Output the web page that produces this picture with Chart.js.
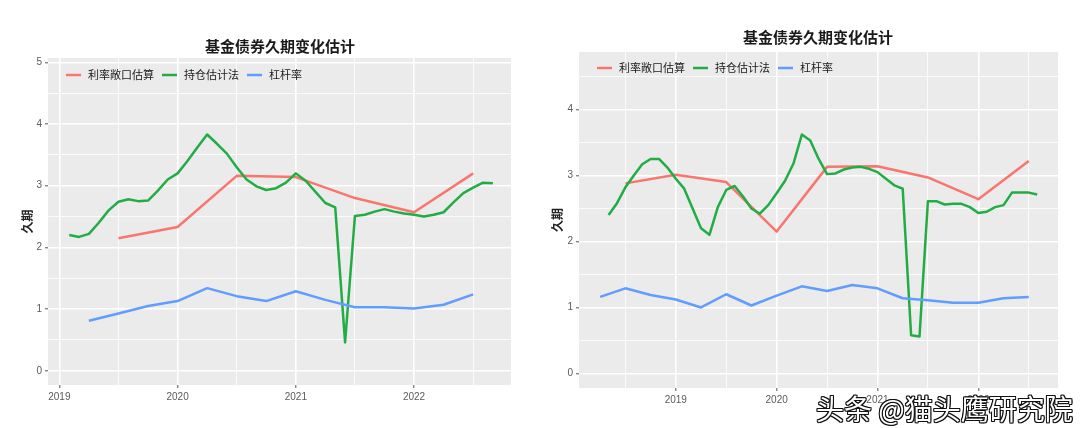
<!DOCTYPE html>
<html>
<head>
<meta charset="utf-8">
<script src="https://cdn.jsdelivr.net/npm/chart.js@4.4.0/dist/chart.umd.min.js"></script>
<style>
  body { margin: 0; background: #fff; width: 1080px; height: 428px; overflow: hidden; position: relative; }
  .box { position: absolute; top: 0; width: 540px; height: 428px; }
  #mark { position: absolute; left: 816px; top: 394px; font-size: 28px; line-height: 1; color: #fff;
          text-shadow: 1px 0 0 #111, -1px 0 0 #111, 0 1px 0 #111, 0 -1px 0 #111,
                       1px 1px 0 #111, -1px -1px 0 #111, 1px -1px 0 #111, -1px 1px 0 #111;
          white-space: nowrap; font-family: "Noto Sans CJK SC", sans-serif; }
</style>
</head>
<body>
<div class="box" style="left:0"><canvas id="left" width="540" height="428"></canvas></div>
<div class="box" style="left:540px"><canvas id="right" width="540" height="428"></canvas></div>
<div id="mark">头条 @猫头鹰研究院</div>
<script>
const seriesNames = ['利率敞口估算', '持仓估计法', '杠杆率'];
const seriesColors = ['#F8766D', '#22AD44', '#619CFF'];
const chartTitle = '基金债券久期变化估计';
const yTitle = '久期';

// ---- left chart data ----
const leftRateDates = ['2019-07', '2020-01', '2020-07', '2021-01', '2021-07', '2022-01', '2022-07'];
const leftRateVals = [2.15, 2.33, 3.16, 3.14, 2.80, 2.57, 3.20];

const leftHoldDates = [
  '2019-02', '2019-03', '2019-04', '2019-05', '2019-06', '2019-07', '2019-08', '2019-09', '2019-10', '2019-11', '2019-12',
  '2020-01', '2020-02', '2020-03', '2020-04', '2020-05', '2020-06', '2020-07', '2020-08', '2020-09', '2020-10', '2020-11', '2020-12',
  '2021-01', '2021-02', '2021-03', '2021-04', '2021-05', '2021-06', '2021-07', '2021-08', '2021-09', '2021-10', '2021-11', '2021-12',
  '2022-01', '2022-02', '2022-03', '2022-04', '2022-05', '2022-06', '2022-07', '2022-08', '2022-09'];
const leftHoldVals = [
  2.20, 2.17, 2.22, 2.40, 2.60, 2.74, 2.78, 2.75, 2.76, 2.92, 3.10,
  3.20, 3.40, 3.62, 3.83, 3.68, 3.52, 3.30, 3.10, 2.99, 2.93, 2.96, 3.05,
  3.20, 3.08, 2.90, 2.72, 2.65, 0.46, 2.51, 2.53, 2.58, 2.62, 2.58, 2.55,
  2.53, 2.50, 2.53, 2.57, 2.73, 2.88, 2.97, 3.05, 3.04];

const leftLevDates = ['2019-04', '2019-07', '2019-10', '2020-01', '2020-04', '2020-07', '2020-10',
  '2021-01', '2021-04', '2021-07', '2021-10', '2022-01', '2022-04', '2022-07'];
const leftLevVals = [0.81, 0.93, 1.05, 1.13, 1.34, 1.21, 1.13, 1.29, 1.15, 1.03, 1.03, 1.01, 1.07, 1.24];

const leftXMajor = [2019, 2020, 2021, 2022];
const leftXMinor = [2019.5, 2020.5, 2021.5, 2022.5];
const leftYMajor = [0, 1, 2, 3, 4, 5];
const leftYMinor = [0.5, 1.5, 2.5, 3.5, 4.5];

// ---- right chart data ----
const rightRateDates = ['2018-07', '2019-01', '2019-07', '2020-01', '2020-07', '2021-01', '2021-07', '2022-01', '2022-07'];
const rightRateVals = [2.88, 3.01, 2.90, 2.15, 3.13, 3.14, 2.97, 2.64, 3.22];

const rightHoldDates = [
  '2018-05', '2018-06', '2018-07', '2018-08', '2018-09', '2018-10', '2018-11', '2018-12',
  '2019-01', '2019-02', '2019-03', '2019-04', '2019-05', '2019-06', '2019-07', '2019-08', '2019-09', '2019-10', '2019-11', '2019-12',
  '2020-01', '2020-02', '2020-03', '2020-04', '2020-05', '2020-06', '2020-07', '2020-08', '2020-09', '2020-10', '2020-11', '2020-12',
  '2021-01', '2021-02', '2021-03', '2021-04', '2021-05', '2021-06', '2021-07', '2021-08', '2021-09', '2021-10', '2021-11', '2021-12',
  '2022-01', '2022-02', '2022-03', '2022-04', '2022-05', '2022-06', '2022-07', '2022-08'];
const rightHoldVals = [
  2.40, 2.58, 2.82, 3.00, 3.17, 3.25, 3.25, 3.12,
  2.95, 2.80, 2.50, 2.20, 2.10, 2.52, 2.78, 2.84, 2.68, 2.50, 2.42, 2.55,
  2.73, 2.92, 3.18, 3.62, 3.53, 3.25, 3.02, 3.03, 3.09, 3.12, 3.13, 3.10,
  3.05, 2.95, 2.85, 2.80, 0.58, 0.56, 2.61, 2.61, 2.56, 2.57, 2.57, 2.52,
  2.43, 2.45, 2.52, 2.55, 2.74, 2.74, 2.74, 2.71];

const rightLevDates = ['2018-04', '2018-07', '2018-10', '2019-01', '2019-04', '2019-07', '2019-10',
  '2020-01', '2020-04', '2020-07', '2020-10', '2021-01', '2021-04', '2021-07', '2021-10',
  '2022-01', '2022-04', '2022-07'];
const rightLevVals = [1.16, 1.29, 1.19, 1.12, 1.00, 1.20, 1.03, 1.18, 1.32, 1.25, 1.34, 1.29, 1.14, 1.11, 1.07, 1.07, 1.14, 1.16];

const rightXMajor = [2019, 2020, 2021, 2022];
const rightXMinor = [2018.5, 2019.5, 2020.5, 2021.5, 2022.5];
const rightYMajor = [0, 1, 2, 3, 4];
const rightYMinor = [0.5, 1.5, 2.5, 3.5, 4.5];

// ---- helpers ----
const toYear = s => { const [y, m] = s.split('-').map(Number); return y + (m - 1) / 12; };
const pts = (dates, vals) => dates.map((d, i) => ({ x: toYear(d), y: vals[i] }));

Chart.defaults.font.family = '"Noto Sans CJK SC", "Liberation Sans", sans-serif';

// grey ggplot panel
const panelBg = {
  id: 'panelBg',
  beforeDraw(chart) {
    const { ctx, chartArea: a } = chart;
    ctx.save();
    ctx.fillStyle = '#EBEBEB';
    ctx.fillRect(a.left, a.top, a.right - a.left, a.bottom - a.top);
    ctx.restore();
  }
};

// title + legend inside the panel, ggplot style
const decor = {
  id: 'decor',
  afterDraw(chart, args, o) {
    const ctx = chart.ctx;
    ctx.save();
    ctx.font = 'bold 15px "Noto Sans CJK SC"';
    ctx.fillStyle = '#1a1a1a';
    ctx.textAlign = 'center';
    ctx.textBaseline = 'middle';
    ctx.fillText(o.title, o.titleX, o.titleY);

    ctx.font = '11px "Noto Sans CJK SC"';
    ctx.textAlign = 'left';
    let x = o.legendX;
    chart.data.datasets.forEach(ds => {
      ctx.strokeStyle = ds.borderColor;
      ctx.lineWidth = 2.5;
      ctx.beginPath();
      ctx.moveTo(x, o.legendY);
      ctx.lineTo(x + 15, o.legendY);
      ctx.stroke();
      x += 22;
      ctx.fillStyle = '#1a1a1a';
      ctx.fillText(ds.label, x, o.legendY);
      x += ctx.measureText(ds.label).width + 8;
    });
    ctx.restore();
  }
};

function axisOpts(major, minor, min, max, extra) {
  const isMajor = c => c.tick && major.includes(c.tick.value);
  return Object.assign({
    type: 'linear',
    min: min,
    max: max,
    afterBuildTicks: ax => { ax.ticks = major.concat(minor).sort((a, b) => a - b).map(v => ({ value: v })); },
    ticks: {
      autoSkip: false,
      maxRotation: 0,
      padding: 3,
      color: '#5a5a5a',
      font: { size: 10, family: '"Liberation Sans", sans-serif' },
      callback: v => major.includes(v) ? String(v) : ''
    },
    grid: {
      color: '#ffffff',
      lineWidth: c => isMajor(c) ? 1.6 : 0.8,
      tickLength: 3,
      tickWidth: 1,
      tickColor: c => isMajor(c) ? '#555' : 'rgba(0,0,0,0)'
    },
    border: { display: false }
  }, extra);
}

function makeChart(id, cfg) {
  const series = [
    [cfg.rateDates, cfg.rateVals],
    [cfg.holdDates, cfg.holdVals],
    [cfg.levDates, cfg.levVals]
  ];
  return new Chart(document.getElementById(id).getContext('2d'), {
    type: 'line',
    data: {
      datasets: series.map((s, i) => ({
        label: seriesNames[i],
        data: pts(s[0], s[1]),
        borderColor: seriesColors[i],
        backgroundColor: seriesColors[i],
        borderWidth: 2.5,
        pointRadius: 0,
        tension: 0,
        borderJoinStyle: 'round',
        order: 3 - i
      }))
    },
    options: {
      responsive: false,
      animation: false,
      layout: { padding: cfg.padding },
      plugins: {
        legend: { display: false },
        title: { display: false },
        tooltip: { enabled: false },
        decor: { title: chartTitle, titleX: cfg.titleX, titleY: cfg.titleY, legendX: cfg.legendX, legendY: cfg.legendY }
      },
      scales: {
        x: axisOpts(cfg.xMajor, cfg.xMinor, cfg.xMin, cfg.xMax, {
          afterFit: ax => { ax.height = 25; }
        }),
        y: axisOpts(cfg.yMajor, cfg.yMinor, cfg.yMin, cfg.yMax, {
          afterFit: ax => { ax.width = cfg.yAxisWidth; },
          title: { display: true, text: yTitle, color: '#222', font: { size: 12, weight: 'bold' }, padding: { top: cfg.yTitlePad, bottom: 0 } }
        })
      }
    },
    plugins: [panelBg, decor]
  });
}

makeChart('left', {
  rateDates: leftRateDates, rateVals: leftRateVals,
  holdDates: leftHoldDates, holdVals: leftHoldVals,
  levDates: leftLevDates, levVals: leftLevVals,
  xMajor: leftXMajor, xMinor: leftXMinor, yMajor: leftYMajor, yMinor: leftYMinor,
  xMin: 2018.904, xMax: 2022.82, yMin: -0.23, yMax: 5.07,
  padding: { top: 58, right: 29, bottom: 18, left: 0 },
  yAxisWidth: 48, yTitlePad: 20,
  titleX: 280, titleY: 46, legendX: 66, legendY: 75
});

makeChart('right', {
  rateDates: rightRateDates, rateVals: rightRateVals,
  holdDates: rightHoldDates, holdVals: rightHoldVals,
  levDates: rightLevDates, levVals: rightLevVals,
  xMajor: rightXMajor, xMinor: rightXMinor, yMajor: rightYMajor, yMinor: rightYMinor,
  xMin: 2018.04, xMax: 2022.79, yMin: -0.22, yMax: 4.87,
  padding: { top: 52, right: 22, bottom: 15, left: 0 },
  yAxisWidth: 39, yTitlePad: 10,
  titleX: 278, titleY: 37, legendX: 57, legendY: 68
});
</script>
</body>
</html>
